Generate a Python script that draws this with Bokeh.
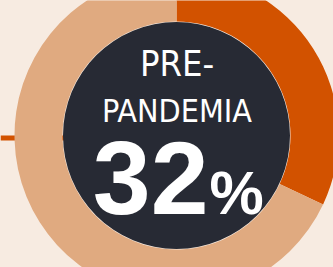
import numpy as np
from bokeh.plotting import figure
from bokeh.models import Range1d
from bokeh.core.properties import value
from bokeh.embed import file_html
from bokeh.resources import INLINE

# data
categories = ["Pre-pandemia", "Resto"]
shares = [32, 68]
title_lines = ["PRE-", "PANDEMIA"]
pct_label = "32"
pct_sign = "%"

BG = "#f7ebe1"
TAN = "#e0aa80"
ORANGE = "#d25200"
DARK = "#272a34"

W, H = 333, 267
p = figure(width=W, height=H, output_backend="svg", toolbar_location=None,
           x_range=Range1d(0, W), y_range=Range1d(0, H), min_border=0,
           background_fill_color=BG, border_fill_color=BG)
p.axis.visible = False
p.grid.visible = False
p.outline_line_color = None

cx, cy = 176, H - 135
r_in, r_out = 113.5, 162

# horizontal accent line
p.line(x=[0, cx], y=[H - 137.5, H - 137.5], line_color=ORANGE, line_width=5)

# ring
total = sum(shares)
sweep = [s / total * 2 * np.pi for s in shares]
start_top = np.pi / 2
o_start = start_top - sweep[0]
p.annular_wedge(x=cx, y=cy, inner_radius=r_in + 0.5, outer_radius=r_out,
                start_angle=o_start, end_angle=start_top,
                fill_color=ORANGE, line_color=None)
p.annular_wedge(x=cx, y=cy, inner_radius=r_in + 0.5, outer_radius=r_out,
                start_angle=start_top, end_angle=o_start + 2 * np.pi,
                fill_color=TAN, line_color=None)

# center disc
p.ellipse(x=cx, y=cy, width=2 * r_in, height=2 * r_in, fill_color=DARK, line_color=None)

def base(y_img, size):
    # compensate the svg baseline offset (~0.34 em)
    return H - y_img + 0.34 * size

cond = value("DejaVu Sans Condensed")
p.text(x=[cx + 0.5], y=[base(75, 36)], text=[title_lines[0]], text_font=cond,
       text_font_size="36px", text_color="white", text_align="center",
       text_baseline="alphabetic")
p.text(x=[cx + 0.5], y=[base(121, 32)], text=[title_lines[1]], text_font=cond,
       text_font_size="32px", text_color="white", text_align="center",
       text_baseline="alphabetic")

p.text(x=[208], y=[base(213, 104)], text=[pct_label], text_font=value("Liberation Sans"),
       text_font_style="bold", text_font_size="104px", text_color="white",
       text_align="right", text_baseline="alphabetic")
p.text(x=[209], y=[base(213, 61)], text=[pct_sign], text_font=value("Liberation Sans"),
       text_font_style="bold", text_font_size="61px", text_color="white",
       text_align="left", text_baseline="alphabetic")

html = file_html(p, INLINE)
html = html.replace("</head>", "<style>html,body{margin:0;padding:0;background:%s;overflow:hidden}</style></head>" % BG, 1)
open("out.html", "w").write(html)
